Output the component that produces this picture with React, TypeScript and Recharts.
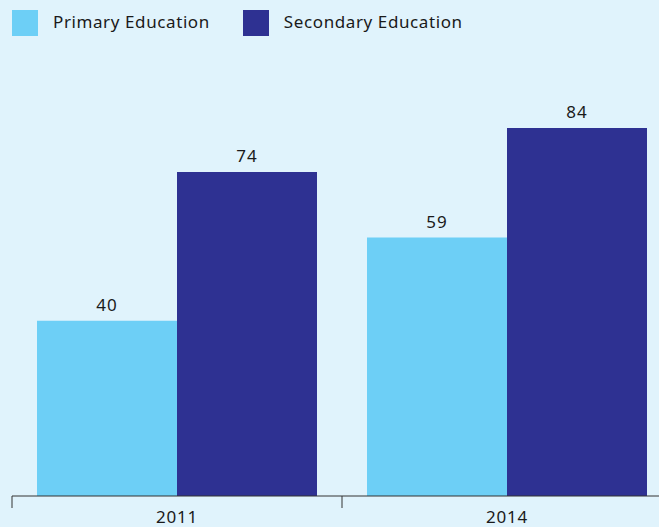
import React from 'react';
import { Bar, BarChart, LabelList, XAxis, YAxis } from 'recharts';

const years = ['2011', '2014'];
const primary = [40, 59];
const secondary = [74, 84];

const data = years.map((year, i) => ({
  year,
  primary: primary[i],
  secondary: secondary[i],
}));

const LIGHT = '#6dcff6';
const DARK = '#2e3192';
const BG = '#e0f3fc';
const TEXT = '#1a1a1a';
const FONT = '"Noto Sans", sans-serif';

const CHART_W = 680;
const MARGIN_L = 12;
const MARGIN_R = 8;
const HALF_BAND = (CHART_W - MARGIN_L - MARGIN_R) / years.length / 2;

const YearTick = (props: any) => {
  const { x, y, payload } = props;
  return (
    <g>
      <line x1={x - HALF_BAND} x2={x - HALF_BAND} y1={y - 14} y2={y - 2} stroke="#333" />
      <text
        x={x}
        y={y}
        dy="0.75em"
        textAnchor="middle"
        fill={TEXT}
        fontSize={17}
        letterSpacing={0.8}
        fontFamily={FONT}
      >
        {payload.value}
      </text>
    </g>
  );
};

const legendItems = [
  { label: 'Primary Education', color: LIGHT },
  { label: 'Secondary Education', color: DARK },
];

const App: React.FC = () => {
  return (
    <div
      style={{
        position: 'absolute',
        left: 0,
        top: 0,
        width: 659,
        height: 527,
        overflow: 'hidden',
        background: BG,
        fontFamily: FONT,
      }}
    >
      <div style={{ position: 'absolute', left: 12, top: 10, display: 'flex', alignItems: 'center' }}>
        {legendItems.map((item) => (
          <div key={item.label} style={{ display: 'flex', alignItems: 'center', marginRight: 33 }}>
            <div style={{ width: 26, height: 26, background: item.color, marginRight: 15 }} />
            <span style={{ fontSize: 17, lineHeight: '26px', letterSpacing: 0.6, color: TEXT, marginTop: -3 }}>
              {item.label}
            </span>
          </div>
        ))}
      </div>
      <BarChart
        width={CHART_W}
        height={527}
        data={data}
        margin={{ top: 58, right: MARGIN_R, left: MARGIN_L, bottom: 0 }}
        barCategoryGap={25}
        barGap={0}
      >
        <XAxis
          dataKey="year"
          height={31}
          stroke="#333"
          tickLine={false}
          tickSize={12}
          tickMargin={2}
          tick={<YearTick />}
          interval={0}
        />
        <YAxis hide domain={[0, 100]} />
        <Bar dataKey="primary" fill={LIGHT} isAnimationActive={false}>
          <LabelList
            dataKey="primary"
            position="top"
            offset={10}
            fill={TEXT}
            fontSize={17}
            letterSpacing={1}
            fontFamily={FONT}
          />
        </Bar>
        <Bar dataKey="secondary" fill={DARK} isAnimationActive={false}>
          <LabelList
            dataKey="secondary"
            position="top"
            offset={10}
            fill={TEXT}
            fontSize={17}
            letterSpacing={1}
            fontFamily={FONT}
          />
        </Bar>
      </BarChart>
    </div>
  );
};

export default App;
